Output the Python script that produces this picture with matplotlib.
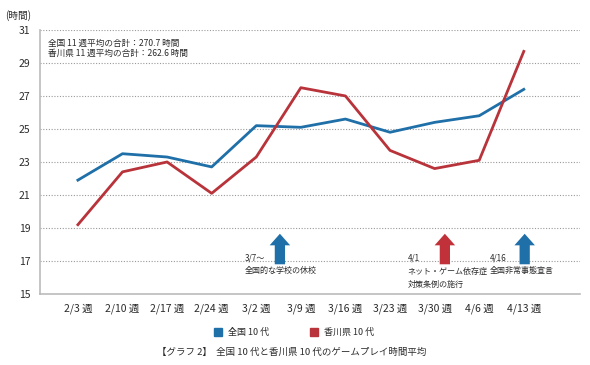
import matplotlib
matplotlib.use("Agg")
import matplotlib.pyplot as plt
from matplotlib.patches import FancyArrow, Rectangle

plt.rcParams['font.family'] = ['Noto Sans CJK JP', 'DejaVu Sans']

weeks = ['2/3 週', '2/10 週', '2/17 週', '2/24 週', '3/2 週', '3/9 週',
         '3/16 週', '3/23 週', '3/30 週', '4/6 週', '4/13 週']
zenkoku = [21.9, 23.5, 23.3, 22.7, 25.2, 25.1, 25.6, 24.8, 25.4, 25.8, 27.4]
kagawa = [19.2, 22.4, 23.0, 21.1, 23.3, 27.5, 27.0, 23.7, 22.6, 23.1, 29.7]
yticks = [15, 17, 19, 21, 23, 25, 27, 29, 31]

# events: (arrow x, text x, color, date, label lines)
events = [
    (4.53, 3.74, '#1f6fa8', '3/7〜', ['全国的な学校の休校']),
    (8.23, 7.40, '#c0313a', '4/1', ['ネット・ゲーム依存症', '対策条例の施行']),
    (10.02, 9.24, '#1f6fa8', '4/16', ['全国非常事態宣言']),
]

blue = '#1f6fa8'
red = '#b8333a'
grid_c = '#9a9a9a'
text_c = '#2b2b2b'

fig = plt.figure(figsize=(5.9, 3.65), dpi=100)
ax = fig.add_axes([0.0678, 0.1945, 0.9152, 0.7235])

x = list(range(len(weeks)))
ax.plot(x, zenkoku, color=blue, lw=2.0, zorder=3)
ax.plot(x, kagawa, color=red, lw=2.0, zorder=3)

ax.set_xlim(-0.85, 11.26)
ax.set_ylim(15, 31)
ax.set_yticks(yticks)
ax.set_xticks(x)
ax.set_xticklabels(weeks)
for v in yticks[1:]:
    ax.axhline(v, color=grid_c, lw=0.8, ls=(0, (1, 1.5)), zorder=1)

for s in ['top', 'right']:
    ax.spines[s].set_visible(False)
ax.spines['left'].set_color('#bbbbbb')
ax.spines['bottom'].set_color('#bbbbbb')
ax.spines['left'].set_linewidth(1.2)
ax.spines['bottom'].set_linewidth(1.2)
ax.tick_params(length=0, labelsize=7.5, colors=text_c)
ax.tick_params(axis='x', pad=7)
ax.tick_params(axis='y', pad=7)

for ax_x, tx, col, date, lines in events:
    ax.add_patch(FancyArrow(ax_x, 16.8, 0, 1.85, width=0.23, head_width=0.46,
                            head_length=0.7, length_includes_head=True,
                            color=col, lw=0, zorder=4))
    ax.text(tx, 17.2, date, fontsize=5.8, color=text_c, ha='left', va='center')
    for k, ln in enumerate(lines):
        ax.text(tx, 16.4 - k * 0.85, ln, fontsize=5.8, color=text_c,
                ha='left', va='center')

ax.text(-0.66, 30.2, '全国 11 週平均の合計：270.7 時間',
        fontsize=6.2, color=text_c, ha='left', va='center')
ax.text(-0.66, 29.55, '香川県 11 週平均の合計：262.6 時間',
        fontsize=6.2, color=text_c, ha='left', va='center')

fig.text(0.008, 0.958, '(時間)', fontsize=7, color=text_c, ha='left', va='center')

# legend
fig.patches.append(Rectangle((214 / 590, 1 - 336 / 365), 8 / 590, 8 / 365,
                             transform=fig.transFigure, color=blue))
fig.text(228 / 590, 1 - 332 / 365, '全国 10 代', fontsize=6.5, color=text_c,
         va='center', ha='left')
fig.patches.append(Rectangle((310 / 590, 1 - 336 / 365), 8 / 590, 8 / 365,
                             transform=fig.transFigure, color=red))
fig.text(324 / 590, 1 - 332 / 365, '香川県 10 代', fontsize=6.5, color=text_c,
         va='center', ha='left')

fig.text(292 / 590, 1 - 352 / 365, '【グラフ 2】  全国 10 代と香川県 10 代のゲームプレイ時間平均',
         fontsize=6.8, color=text_c, ha='center', va='center')

fig.savefig('out.png', dpi=100, facecolor='white')
